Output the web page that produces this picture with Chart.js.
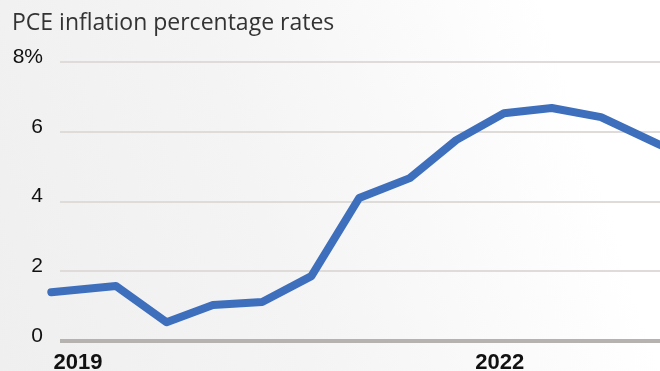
<!DOCTYPE html>
<html>
<head>
<meta charset="utf-8">
<script src="https://cdn.jsdelivr.net/npm/chart.js@4/dist/chart.umd.min.js"></script>
<style>
  html, body { margin: 0; padding: 0; }
  body {
    width: 660px; height: 371px; overflow: hidden;
    background: linear-gradient(72deg, #efefef 0%, #f4f4f4 40%, #fafafa 65%, #ffffff 85%);
  }
  #wrap { position: relative; width: 660px; height: 371px; }
</style>
</head>
<body>
<div id="wrap"><canvas id="c" width="660" height="371"></canvas></div>
<script>
// Data
const titleText = 'PCE inflation percentage rates';
const periods = [2018.81, 2019.27, 2019.63, 2019.96, 2020.31, 2020.66, 2021.00, 2021.36, 2021.69, 2022.03, 2022.37, 2022.72, 2023.14];
const pceRates = [1.40, 1.58, 0.54, 1.03, 1.12, 1.86, 4.10, 4.67, 5.76, 6.53, 6.68, 6.42, 5.62];
const xTickYears = [2019, 2022];
const yTicks = [0, 2, 4, 6, 8];

const points = periods.map((p, i) => ({ x: p, y: pceRates[i] }));

new Chart(document.getElementById('c'), {
  type: 'line',
  data: {
    datasets: [{
      data: points,
      borderColor: '#3d6fbd',
      borderWidth: 8,
      pointRadius: 0,
      tension: 0,
      borderJoinStyle: 'round',
      borderCapStyle: 'round',
      clip: false
    }]
  },
  options: {
    responsive: false,
    animation: false,
    layout: { padding: { left: 12, right: 0, top: 0, bottom: 0 } },
    plugins: {
      legend: { display: false },
      tooltip: { enabled: false },
      title: {
        display: true,
        text: titleText,
        align: 'start',
        color: '#333333',
        font: { family: 'Open Sans', size: 23, weight: 'normal', lineHeight: 1.2 },
        padding: { top: 10, bottom: 24.4 }
      }
    },
    scales: {
      x: {
        type: 'linear',
        min: 2018.872,
        max: 2023.14,
        afterBuildTicks: (s) => { s.ticks = xTickYears.map(v => ({ value: v })); },
        afterFit: (s) => { s.height = 30; },
        grid: { display: false, drawTicks: false },
        border: { display: false },
        ticks: {
          autoSkip: false,
          maxRotation: 0,
          padding: 9,
          color: '#111111',
          font: { family: 'Liberation Sans', size: 22, weight: 'bold' },
          callback: (v) => String(v)
        }
      },
      y: {
        min: 0,
        max: 8,
        afterBuildTicks: (s) => { s.ticks = yTicks.map(v => ({ value: v })); },
        afterFit: (s) => { s.width = 48; },
        border: { display: false },
        grid: {
          drawTicks: false,
          color: (ctx) => ctx.tick && ctx.tick.value === 0 ? '#b5b2af' : '#dedbd8',
          lineWidth: (ctx) => ctx.tick && ctx.tick.value === 0 ? 4 : 2
        },
        ticks: {
          padding: 17,
          labelOffset: -5,
          color: '#111111',
          font: { family: 'Liberation Sans', size: 21 },
          callback: (v) => v === 8 ? '8%' : String(v)
        }
      }
    }
  }
});
</script>
</body>
</html>
